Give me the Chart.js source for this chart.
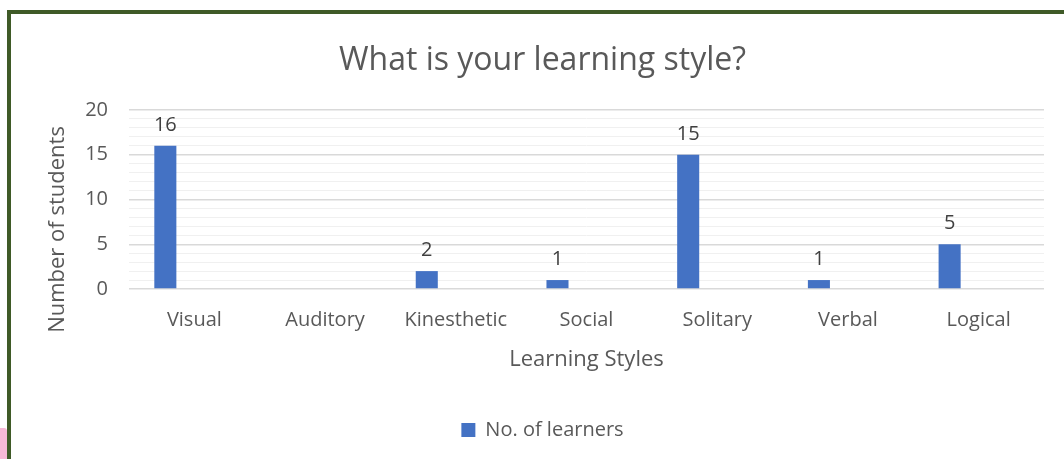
<!DOCTYPE html>
<html>
<head>
<meta charset="utf-8">
<script src="https://cdn.jsdelivr.net/npm/chart.js@4"></script>
<style>
  html, body { margin: 0; padding: 0; background: #fff; overflow: hidden; }
  body { width: 1064px; height: 459px; position: relative; }
  #frame { position: absolute; left: 7px; top: 10px; width: 1100px; height: 500px;
           border-left: 4px solid #3F5A27; border-top: 4px solid #3F5A27; box-sizing: border-box; }
  #pink { position: absolute; left: 0; top: 428px; width: 7px; height: 40px; background: #F7B9D6; border-top-right-radius: 3px; }
  #wrap { position: absolute; left: 11px; top: 14px; width: 1064px; height: 445px; }
</style>
</head>
<body>
<div id="pink"></div>
<div id="frame"></div>
<div id="wrap"><canvas id="c" width="1064" height="445"></canvas></div>
<script>
const categories = ['Visual', 'Auditory', 'Kinesthetic', 'Social', 'Solitary', 'Verbal', 'Logical'];
const learners = [16, null, 2, 1, 15, 1, 5];
const emptySeries = [null, null, null, null, null, null, null];
const yTickLabels = [0, 5, 10, 15, 20];
const yAxisTitle = 'Number of students';

const FONT = "'Open Sans', sans-serif";
const GREY = '#595959';

const extras = {
  id: 'extras',
  afterDatasetsDraw(chart) {
    const ctx = chart.ctx;
    const meta = chart.getDatasetMeta(0);
    ctx.save();
    ctx.font = "20px " + FONT;
    ctx.fillStyle = '#404040';
    ctx.textAlign = 'center';
    ctx.textBaseline = 'alphabetic';
    meta.data.forEach((bar, i) => {
      const v = learners[i];
      if (v === null || v === undefined) return;
      ctx.fillText(String(v), bar.x, bar.y - 15);
    });
    // y axis title
    const a = chart.chartArea;
    ctx.font = "22px " + FONT;
    ctx.fillStyle = GREY;
    ctx.textBaseline = 'middle';
    ctx.translate(47, (a.top + a.bottom) / 2 + 30);
    ctx.rotate(-Math.PI / 2);
    ctx.fillText(yAxisTitle, 0, 0);
    ctx.restore();
  }
};

new Chart(document.getElementById('c'), {
  type: 'bar',
  data: {
    labels: categories,
    datasets: [
      { label: 'No. of learners', data: learners, backgroundColor: '#4472C4',
        categoryPercentage: 0.888, barPercentage: 0.38 },
      { label: '', data: emptySeries, backgroundColor: 'rgba(0,0,0,0)',
        categoryPercentage: 0.888, barPercentage: 0.38 }
    ]
  },
  plugins: [extras],
  options: {
    responsive: false,
    animation: false,
    layout: { padding: { left: 30, right: 31, top: 0, bottom: 9 } },
    plugins: {
      title: { display: true, text: 'What is your learning style?', color: GREY,
               font: { family: FONT, size: 32, weight: 'normal' },
               padding: { top: 28, bottom: 29.6 } },
      legend: { position: 'bottom',
                labels: { color: GREY, font: { family: FONT, size: 20 }, boxWidth: 14, boxHeight: 14,
                          padding: 14,
                          filter: (item) => item.datasetIndex === 0 } },
      tooltip: { enabled: false }
    },
    scales: {
      x: {
        afterFit(scale) { scale.height = 117; },
        grid: { display: false, drawTicks: false, tickLength: 0 },
        border: { display: false },
        ticks: { color: GREY, font: { family: FONT, size: 20 }, padding: 19, maxRotation: 0 },
        title: { display: true, text: 'Learning Styles', color: GREY,
                 font: { family: FONT, size: 22 }, padding: { top: 0, bottom: 33 } }
      },
      y: {
        min: 0, max: 20,
        afterFit(scale) { scale.width = 88; },
        border: { display: false },
        grid: { color: (c) => (c.tick && c.tick.value % 5 === 0) ? '#D9D9D9' : '#F0F0F0',
                lineWidth: (c) => (c.tick && c.tick.value % 5 === 0) ? 1.5 : 1,
                drawTicks: false },
        ticks: { stepSize: 1, color: GREY, font: { family: FONT, size: 20 }, padding: 21,
                 autoSkip: false,
                 callback: (v) => yTickLabels.includes(v) ? String(v) : '' },
        title: { display: false }
      }
    }
  }
});
</script>
</body>
</html>
